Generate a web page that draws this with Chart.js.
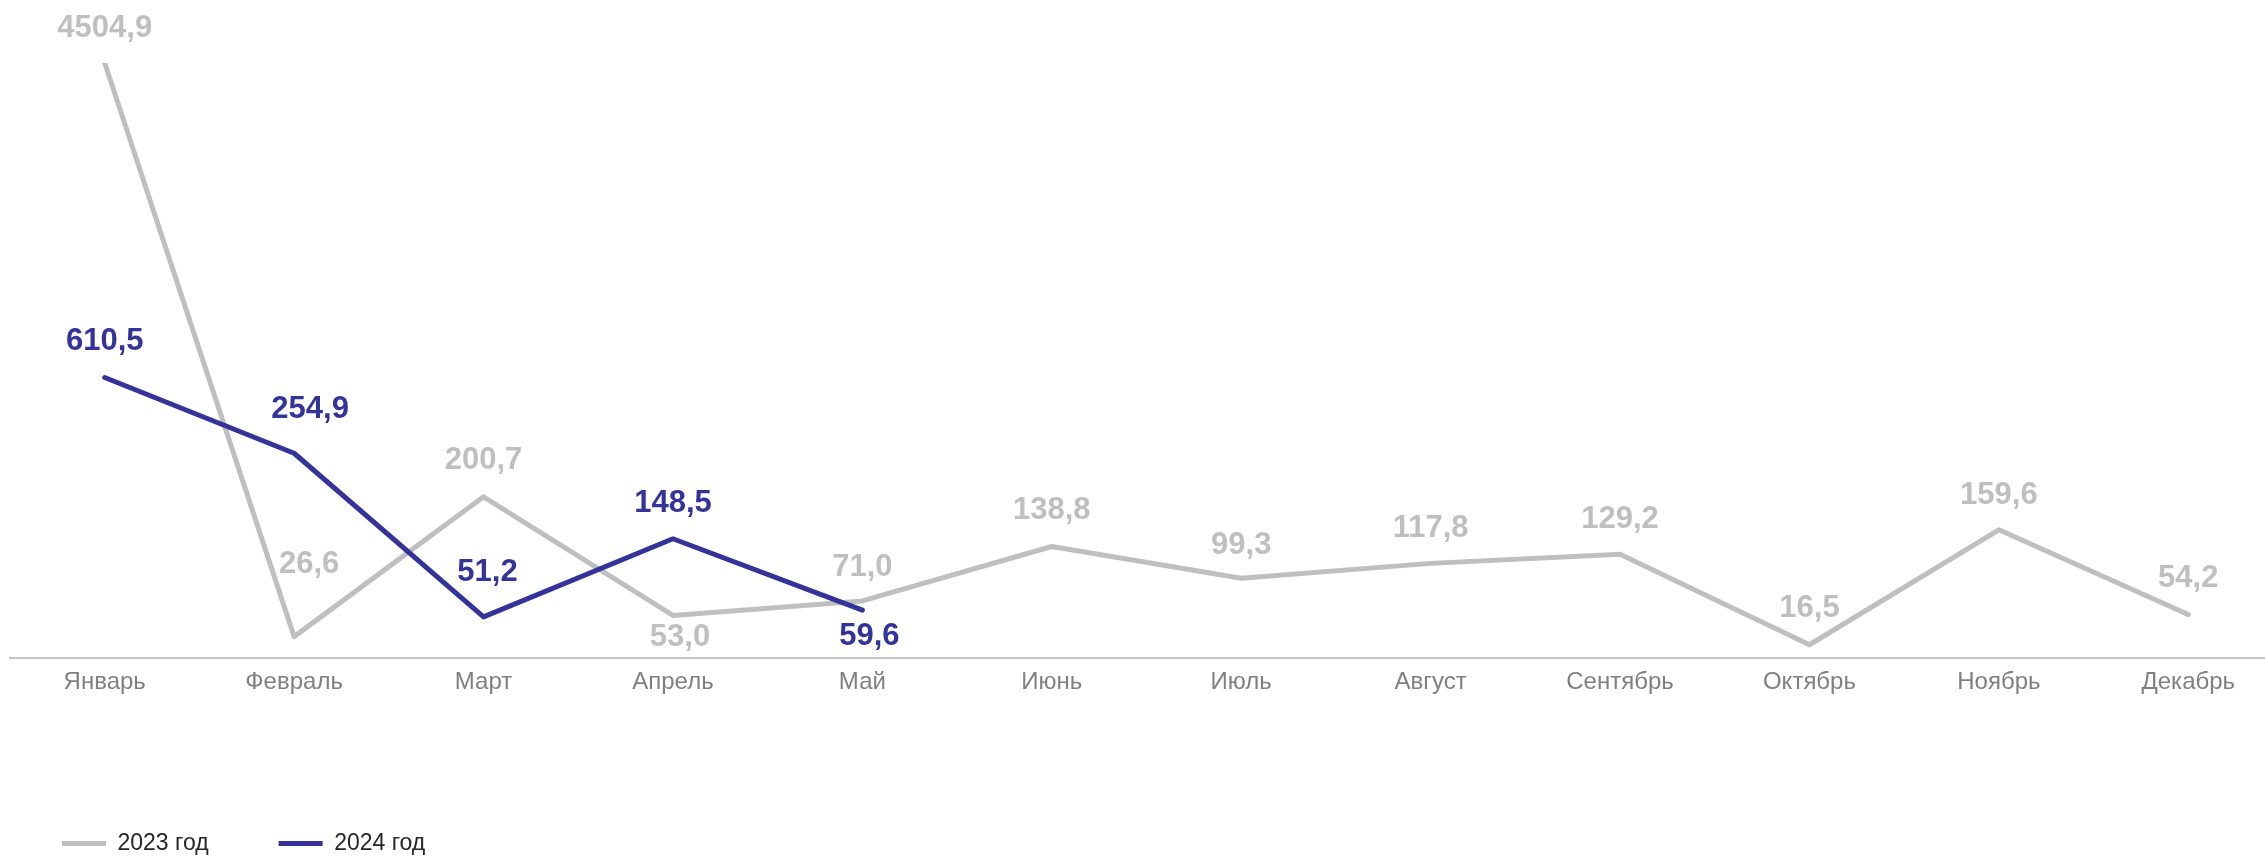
<!DOCTYPE html>
<html>
<head>
<meta charset="utf-8">
<script src="https://cdn.jsdelivr.net/npm/chart.js@4"></script>
<style>
  html, body { margin: 0; padding: 0; background: #fff; overflow: hidden; }
  #frame { width: 2265px; height: 861px; overflow: hidden; }
  /* plot runs slightly past the right edge, as in the original */
  #wrap { width: 2283px; height: 861px; }
</style>
</head>
<body>
<div id="frame"><div id="wrap"><canvas id="monthChart"></canvas></div></div>
<script>
const months = ['Январь', 'Февраль', 'Март', 'Апрель', 'Май', 'Июнь', 'Июль', 'Август', 'Сентябрь', 'Октябрь', 'Ноябрь', 'Декабрь'];
const values2023 = [4504.9, 26.6, 200.7, 53.0, 71.0, 138.8, 99.3, 117.8, 129.2, 16.5, 159.6, 54.2];
const values2024 = [610.5, 254.9, 51.2, 148.5, 59.6];

// where each value label sits relative to its point [dx, dy]
const labelOffsets2023 = [[0, -35], [15, -72], [0, -36], [7, 22], [0, -34], [0, -36], [0, -33], [0, -35], [0, -35], [0, -36], [0, -34], [0, -36]];
const labelOffsets2024 = [[0, -36], [16, -44], [4, -44], [0, -35], [7, 26]];

// the original axis is compressed above ~300: value -> share of the axis height
const yKnots = [[0, 0], [300, 0.405], [600, 0.47], [4505, 1]];

const grey = '#bfbfbf';
const navy = '#33339a';
const fontFamily = "'Liberation Sans', Arial, sans-serif";

function toDecimal(v) {
    for (let i = 1; i < yKnots.length; i++) {
        const [v0, d0] = yKnots[i - 1];
        const [v1, d1] = yKnots[i];
        if (v <= v1 || i === yKnots.length - 1) {
            return d0 + (v - v0) * (d1 - d0) / (v1 - v0);
        }
    }
}

function fromDecimal(d) {
    for (let i = 1; i < yKnots.length; i++) {
        const [v0, d0] = yKnots[i - 1];
        const [v1, d1] = yKnots[i];
        if (d <= d1 || i === yKnots.length - 1) {
            return v0 + (d - d0) * (v1 - v0) / (d1 - d0);
        }
    }
}

class PiecewiseScale extends Chart.LinearScale {
    getPixelForValue(value) {
        return this.getPixelForDecimal(toDecimal(value));
    }
    getValueForPixel(pixel) {
        return fromDecimal(this.getDecimalForPixel(pixel));
    }
}
PiecewiseScale.id = 'piecewise';
PiecewiseScale.defaults = Chart.LinearScale.defaults;
Chart.register(PiecewiseScale);

function fmt(v) {
    return v.toFixed(1).replace('.', ',');
}

const valueLabels = {
    id: 'valueLabels',
    afterDatasetsDraw(chart) {
        const ctx = chart.ctx;
        const offsets = [labelOffsets2023, labelOffsets2024];
        ctx.save();
        ctx.font = 'bold 31px ' + fontFamily;
        ctx.textAlign = 'center';
        ctx.textBaseline = 'middle';
        chart.data.datasets.forEach((ds, i) => {
            const meta = chart.getDatasetMeta(i);
            ctx.fillStyle = ds.borderColor;
            meta.data.forEach((pt, j) => {
                const [dx, dy] = offsets[i][j];
                ctx.fillText(fmt(ds.data[j]), pt.x + dx, pt.y + dy);
            });
        });
        ctx.restore();
    }
};

// move the legend a bit so its items line up with the original
const legendNudge = {
    id: 'legendNudge',
    afterLayout(chart) {
        chart.legend.left -= 18;
        chart.legend.top += 4;
    }
};

const ctx = document.getElementById('monthChart').getContext('2d');

new Chart(ctx, {
    type: 'line',
    data: {
        labels: months,
        datasets: [{
            label: '2023 год',
            data: values2023,
            borderColor: grey,
            backgroundColor: grey,
            borderWidth: 5,
            order: 1
        }, {
            label: '2024 год',
            data: values2024,
            borderColor: navy,
            backgroundColor: navy,
            borderWidth: 5,
            order: 0
        }]
    },
    options: {
        responsive: true,
        maintainAspectRatio: false,
        animation: false,
        layout: {
            padding: { top: 63, left: 10, right: 0, bottom: 0 }
        },
        elements: {
            point: { radius: 0, hoverRadius: 0 },
            line: { tension: 0, borderCapStyle: 'round', borderJoinStyle: 'round' }
        },
        scales: {
            x: {
                type: 'category',
                offset: true,
                grid: { display: false },
                border: { display: true, color: '#c6c6c6', width: 2 },
                ticks: {
                    color: '#808080',
                    font: { family: fontFamily, size: 24 },
                    padding: 2,
                    autoSkip: false,
                    maxRotation: 0
                },
                afterFit: scale => { scale.height = 100; }
            },
            y: {
                type: 'piecewise',
                display: false,
                min: 0,
                max: 4505
            }
        },
        plugins: {
            legend: {
                position: 'bottom',
                align: 'start',
                labels: {
                    color: '#262626',
                    font: { family: fontFamily, size: 23 },
                    boxWidth: 44,
                    boxHeight: 5,
                    padding: 70,
                    generateLabels: chart => chart.data.datasets.map((ds, i) => ({
                        text: ds.label,
                        fillStyle: ds.borderColor,
                        strokeStyle: ds.borderColor,
                        lineWidth: 0,
                        fontColor: '#262626',
                        datasetIndex: i
                    }))
                }
            },
            tooltip: { enabled: false }
        }
    },
    plugins: [valueLabels, legendNudge]
});
</script>
</body>
</html>
